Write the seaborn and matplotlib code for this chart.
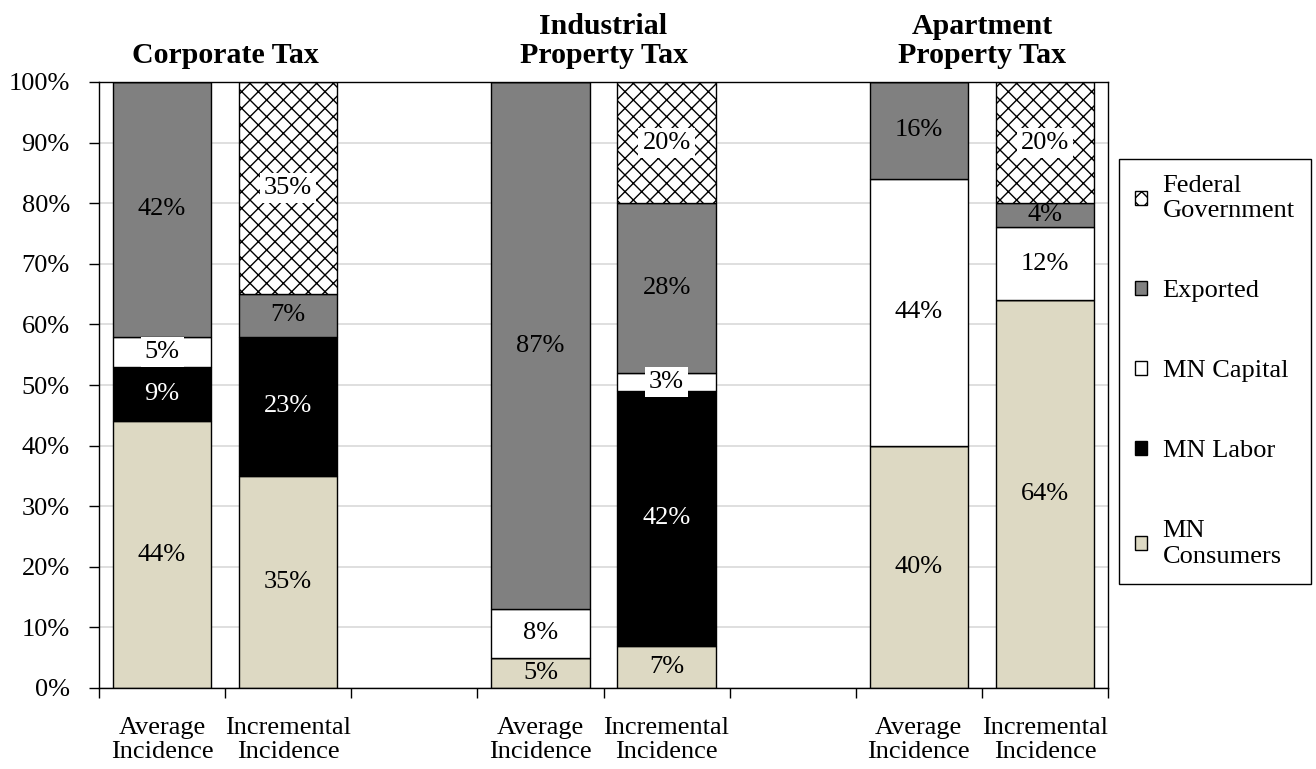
import numpy as np
import pandas as pd
import matplotlib
matplotlib.use("Agg")
import matplotlib.pyplot as plt
import matplotlib.transforms as mtransforms
import seaborn as sns

# -------- DATA --------
bar_pos = [0, 1, 3, 4, 6, 7]
bar_labels = ["Average\nIncidence", "Incremental\nIncidence"] * 3
group_centers = [0.5, 3.5, 6.5]
group_titles = ["Corporate Tax", "Industrial\nProperty Tax", "Apartment\nProperty Tax"]

segments = ["MN Consumers", "MN Labor", "MN Capital", "Exported", "Federal Government"]
legend_labels = ["MN\nConsumers", "MN Labor", "MN Capital", "Exported", "Federal\nGovernment"]
mn_consumers = [44, 35, 5, 7, 40, 64]
mn_labor = [9, 23, 0, 42, 0, 0]
mn_capital = [5, 0, 8, 3, 44, 12]
exported = [42, 7, 87, 28, 16, 4]
federal = [0, 35, 0, 20, 0, 20]
y_ticks = [0, 10, 20, 30, 40, 50, 60, 70, 80, 90, 100]

# -------- STYLE --------
seg_color = {"MN Consumers": "#DDD9C3", "MN Labor": "black", "MN Capital": "white",
             "Exported": "#808080", "Federal Government": "white"}
seg_text = {"MN Labor": "white"}
seg_hatch = {"Federal Government": "xx"}
boxed = ["MN Capital", "Federal Government"]

# long table with stacking bottoms
values = [mn_consumers, mn_labor, mn_capital, exported, federal]
rows = []
for i, p in enumerate(bar_pos):
    base = 0
    for seg, vals in zip(segments, values):
        rows.append({"pos": p, "segment": seg, "value": vals[i], "bottom": base})
        base += vals[i]
df = pd.DataFrame(rows)

sns.set_theme(style="ticks", rc={"text.color": "black", "xtick.color": "black",
                                 "ytick.color": "black", "axes.labelcolor": "black"})
plt.rcParams["font.family"] = ["Liberation Serif", "DejaVu Serif"]
plt.rcParams["hatch.linewidth"] = 1.0

fig = plt.figure(figsize=(13.16, 7.69), dpi=100)
ax = fig.add_axes([99 / 1316, 1 - 688 / 769, (1108 - 99) / 1316, (688 - 82) / 769])

for seg, lab in zip(segments, legend_labels):
    sub = df[df["segment"] == seg].sort_values("pos")
    sns.barplot(data=sub, x="pos", y="value", native_scale=True,
                bottom=sub["bottom"].to_numpy(), width=0.78,
                color=seg_color[seg], saturation=1, edgecolor="black", linewidth=1,
                hatch=seg_hatch.get(seg), errorbar=None, label=lab, ax=ax)
    for _, r in sub.iterrows():
        if r["value"] <= 0:
            continue
        bb = None
        if seg in boxed:
            bb = dict(boxstyle="square,pad=0.15", facecolor="white", edgecolor="none")
        ax.text(r["pos"], r["bottom"] + r["value"] / 2, f"{r['value']}%",
                ha="center", va="center", fontsize=19,
                color=seg_text.get(seg, "black"), bbox=bb, zorder=5)

ax.set_xlim(-0.5, 7.5)
ax.set_ylim(0, 100)
ax.set_xlabel("")
ax.set_ylabel("")

# x: boundary ticks (major) and bar labels (minor)
ax.set_xticks([x - 0.5 for x in range(9)])
ax.set_xticklabels([])
ax.set_xticks(bar_pos, minor=True)
ax.set_xticklabels(bar_labels, minor=True)
ax.tick_params(axis="x", which="major", direction="out", length=7, width=1, color="black")
ax.tick_params(axis="x", which="minor", length=0, pad=21, labelsize=19)
for t in ax.get_xticklabels(minor=True):
    t.set_linespacing(1.1)

ax.set_yticks(y_ticks)
ax.set_yticklabels([f"{v}%" for v in y_ticks])
ax.tick_params(axis="y", direction="out", length=7, width=1, color="black", pad=14, labelsize=19)

ax.yaxis.grid(True, color="#D9D9D9", linewidth=1.2)
ax.set_axisbelow(True)
for s in ax.spines.values():
    s.set_visible(True)
    s.set_color("black")
    s.set_linewidth(1)

# group titles
trans = mtransforms.blended_transform_factory(ax.transData, ax.transAxes)
for c, title in zip(group_centers, group_titles):
    ax.text(c, 1.022, title, transform=trans, ha="center", va="bottom",
            fontsize=21.5, fontweight="bold", linespacing=1.1)

handles = ax.containers[::-1]
leg = ax.legend(handles=handles, labels=legend_labels[::-1], loc="upper left",
                bbox_to_anchor=(1119 / 1316, 1 - 159 / 769), bbox_transform=fig.transFigure,
                borderaxespad=0, frameon=True, fancybox=False, edgecolor="black",
                framealpha=1, fontsize=19, handlelength=0.45, handleheight=0.45,
                handletextpad=0.6, labelspacing=2.2, borderpad=0.6)
leg.get_frame().set_linewidth(1)

fig.savefig("out.png", dpi=100)
